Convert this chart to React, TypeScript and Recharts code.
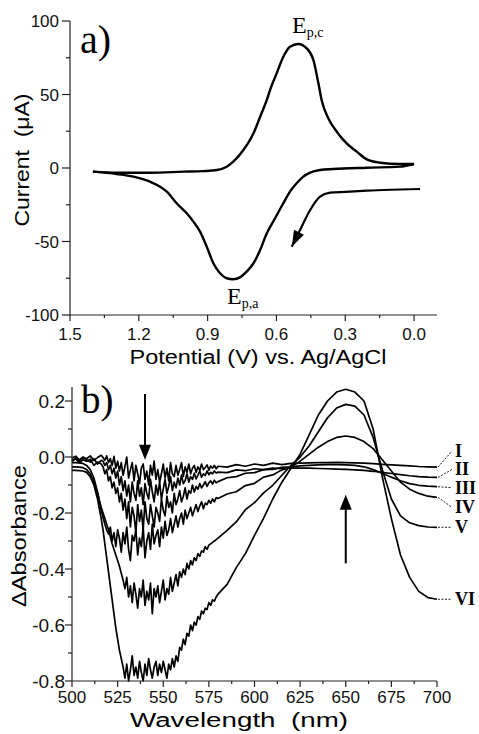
import { LineChart, Line, XAxis, YAxis, ReferenceLine } from 'recharts';

// ---- panel a) cyclic voltammogram: potential (V), current (uA)
const cvUpper = [
  { v: 0.0, i: 2.7 }, { v: 0.061, i: 2.7 }, { v: 0.148, i: 3.6 }, { v: 0.206, i: 5.9 },
  { v: 0.25, i: 11.1 }, { v: 0.294, i: 16.8 }, { v: 0.337, i: 24.7 }, { v: 0.374, i: 33.8 },
  { v: 0.403, i: 46.3 }, { v: 0.417, i: 57.6 }, { v: 0.439, i: 73.5 }, { v: 0.468, i: 81.4 },
  { v: 0.505, i: 84.4 }, { v: 0.541, i: 82.5 }, { v: 0.57, i: 75.7 }, { v: 0.599, i: 64.4 },
  { v: 0.628, i: 53 }, { v: 0.642, i: 46.3 }, { v: 0.671, i: 34.9 }, { v: 0.7, i: 23.6 },
  { v: 0.744, i: 12.2 }, { v: 0.788, i: 4.3 }, { v: 0.817, i: 0.9 }, { v: 0.86, i: -1.4 },
  { v: 0.92, i: -2.1 }, { v: 1.006, i: -2.5 }, { v: 1.151, i: -3.2 }, { v: 1.296, i: -3.2 },
  { v: 1.4, i: -2.5 },
];

const cvLower = [
  { v: 0.0, i: 2.7 }, { v: 0.061, i: 0.9 }, { v: 0.206, i: 0.2 }, { v: 0.352, i: -0.7 },
  { v: 0.41, i: -1.4 }, { v: 0.453, i: -3.2 }, { v: 0.483, i: -5.9 }, { v: 0.512, i: -10.4 },
  { v: 0.541, i: -16.1 }, { v: 0.57, i: -24 }, { v: 0.606, i: -34.2 }, { v: 0.642, i: -44.4 },
  { v: 0.671, i: -55.8 }, { v: 0.7, i: -64.8 }, { v: 0.73, i: -70.5 }, { v: 0.759, i: -74.4 },
  { v: 0.788, i: -75.7 }, { v: 0.817, i: -75.0 }, { v: 0.846, i: -71.6 }, { v: 0.875, i: -64.8 },
  { v: 0.904, i: -53.5 }, { v: 0.933, i: -43.3 }, { v: 0.962, i: -36.5 }, { v: 0.991, i: -30.8 },
  { v: 1.035, i: -24 }, { v: 1.078, i: -16.1 }, { v: 1.107, i: -12.7 }, { v: 1.151, i: -9.3 },
  { v: 1.224, i: -5.9 }, { v: 1.296, i: -4.1 }, { v: 1.4, i: -2.5 },
];

// sweep direction arrow
const cvArrow = [
  { v: -0.026, i: -14.3 }, { v: 0.1, i: -14.8 }, { v: 0.206, i: -15.4 }, { v: 0.3, i: -16.2 },
  { v: 0.366, i: -16.8 }, { v: 0.41, i: -19.5 }, { v: 0.453, i: -28.6 }, { v: 0.497, i: -42.2 },
  { v: 0.533, i: -53.5 },
];

const cvXTicks = [1.5, 1.35, 1.2, 1.05, 0.9, 0.75, 0.6, 0.45, 0.3, 0.15, 0.0];
const cvXMajor = [1.5, 1.2, 0.9, 0.6, 0.3, 0.0];
const cvYTicks = [-100, -75, -50, -25, 0, 25, 50, 75, 100];
const cvYMajor = [-100, -50, 0, 50, 100];

// ---- panel b) difference spectra
const wavelength = [
  500, 502, 504, 506, 508, 510, 512, 514, 516,
  517, 518, 519, 520, 521, 522, 523, 524, 525, 526,
  527, 528, 529, 530, 531, 532, 533, 534, 535, 536,
  537, 538, 539, 540, 541, 542, 543, 544, 545, 546,
  547, 548, 549, 550, 551, 552, 553, 554, 555, 556,
  557, 558, 559, 560, 561, 562, 563, 564, 565, 566,
  567, 568, 569, 570, 571, 572, 573, 574, 575, 576,
  577, 578, 579, 580,
  585, 590, 595, 600, 605, 610, 615, 620, 625, 630, 635, 640,
  645, 650, 655, 660, 665, 670, 675, 680, 685, 690, 695, 700,
];

const specI = [
  -0.004, 0.003, -0.01, 0.0, -0.006, 0.004, -0.012, -0.002, 0.006,
  -0.002, -0.012, 0.004, -0.02, -0.006, -0.03, 0.002, -0.04, -0.015, -0.05,
  -0.02, -0.065, -0.035, 0.0, -0.075, -0.045, -0.02, -0.085, -0.03, -0.06,
  -0.095, -0.04, -0.025, -0.08, -0.05, -0.1, -0.03, -0.065, -0.015, -0.08,
  -0.045, -0.09, -0.06, -0.025, -0.075, -0.04, -0.085, -0.02, -0.06, -0.07,
  -0.03, -0.065, -0.045, -0.02, -0.07, -0.035, -0.055, -0.025, -0.06, -0.04,
  -0.03, -0.055, -0.035, -0.048, -0.025, -0.045, -0.038, -0.028, -0.047, -0.032,
  -0.04, -0.03, -0.042, -0.033,
  -0.036, -0.027, -0.033, -0.025, -0.03, -0.022, -0.027, -0.023, -0.022, -0.021, -0.02, -0.02,
  -0.019, -0.02, -0.021, -0.022, -0.024, -0.026, -0.028, -0.03, -0.032, -0.034, -0.035, -0.036,
];
const specII = [
  -0.012, -0.004, -0.015, -0.002, -0.01, -0.018, -0.006, -0.025, -0.012,
  -0.015, -0.03, -0.02, -0.045, -0.03, -0.06, -0.04, -0.075, -0.05, -0.1,
  -0.07, -0.12, -0.085, -0.14, -0.1, -0.16, -0.09, -0.13, -0.155, -0.085,
  -0.14, -0.11, -0.17, -0.095, -0.13, -0.15, -0.08, -0.125, -0.16, -0.1,
  -0.135, -0.09, -0.15, -0.115, -0.08, -0.13, -0.105, -0.07, -0.12, -0.09,
  -0.11, -0.075, -0.1, -0.065, -0.095, -0.085, -0.06, -0.09, -0.07, -0.08,
  -0.058, -0.078, -0.065, -0.05, -0.072, -0.06, -0.066, -0.05, -0.063, -0.055,
  -0.06, -0.05, -0.057, -0.054,
  -0.056, -0.046, -0.049, -0.042, -0.045, -0.04, -0.042, -0.039, -0.04, -0.04, -0.041, -0.042,
  -0.043, -0.044, -0.046, -0.048, -0.051, -0.055, -0.059, -0.063, -0.067, -0.07, -0.072, -0.073,
];
const specIII = [
  -0.016, -0.006, -0.02, -0.01, -0.015, -0.008, -0.03, -0.018, -0.025,
  -0.035, -0.06, -0.045, -0.085, -0.07, -0.11, -0.09, -0.13, -0.11, -0.16,
  -0.13, -0.19, -0.15, -0.22, -0.16, -0.25, -0.18, -0.21, -0.27, -0.17,
  -0.23, -0.19, -0.26, -0.16, -0.22, -0.24, -0.17, -0.21, -0.25, -0.18,
  -0.2, -0.23, -0.15, -0.19, -0.21, -0.14, -0.18, -0.16, -0.2, -0.13,
  -0.17, -0.15, -0.12, -0.16, -0.14, -0.11, -0.15, -0.12, -0.13, -0.1,
  -0.125, -0.105, -0.115, -0.095, -0.11, -0.1, -0.088, -0.105, -0.092, -0.085,
  -0.097, -0.083, -0.092, -0.088,
  -0.074, -0.07, -0.058, -0.056, -0.045, -0.044, -0.037, -0.035, -0.032, -0.03, -0.028, -0.027,
  -0.027, -0.028, -0.03, -0.035, -0.045, -0.058, -0.072, -0.085, -0.095, -0.101, -0.104, -0.106,
];
const specIV = [
  -0.02, -0.02, -0.021, -0.023, -0.03, -0.045, -0.075, -0.125, -0.19,
  -0.215, -0.24, -0.26, -0.275, -0.25, -0.3, -0.27, -0.32, -0.26, -0.29,
  -0.34, -0.27, -0.31, -0.25, -0.33, -0.37, -0.28, -0.3, -0.26, -0.35,
  -0.29, -0.32, -0.25, -0.36, -0.3, -0.27, -0.33, -0.24, -0.31, -0.28,
  -0.26, -0.32, -0.25, -0.29, -0.23, -0.28, -0.26, -0.22, -0.27, -0.24,
  -0.21, -0.25, -0.22, -0.2, -0.24, -0.19, -0.22, -0.2, -0.18, -0.21,
  -0.19, -0.17, -0.195, -0.175, -0.16, -0.185, -0.165, -0.17, -0.155, -0.165,
  -0.15, -0.16, -0.145, -0.148,
  -0.132, -0.124, -0.102, -0.094, -0.072, -0.064, -0.046, -0.036, -0.015, 0.01, 0.035, 0.055,
  0.07, 0.075, 0.07, 0.055, 0.03, -0.01, -0.05, -0.09, -0.115, -0.13, -0.14, -0.144,
];
const specV = [
  -0.035, -0.035, -0.036, -0.038, -0.045, -0.06, -0.09, -0.13, -0.18,
  -0.2, -0.22, -0.24, -0.26, -0.285, -0.31, -0.33, -0.35, -0.37, -0.39,
  -0.415, -0.44, -0.47, -0.43, -0.5, -0.46, -0.52, -0.45, -0.49, -0.54,
  -0.47, -0.5, -0.44, -0.53, -0.48, -0.51, -0.45, -0.56, -0.47, -0.5,
  -0.46, -0.52, -0.48, -0.44, -0.51, -0.47, -0.49, -0.43, -0.48, -0.45,
  -0.42, -0.46, -0.41, -0.43, -0.4, -0.42, -0.38, -0.4, -0.37, -0.385,
  -0.36, -0.37, -0.345, -0.355, -0.335, -0.34, -0.32, -0.33, -0.315, -0.31,
  -0.305, -0.3, -0.295, -0.29,
  -0.262, -0.232, -0.188, -0.163, -0.128, -0.101, -0.065, -0.03, 0.0, 0.04, 0.09, 0.14,
  0.175, 0.188, 0.182, 0.15, 0.07, -0.045, -0.15, -0.21, -0.235, -0.245, -0.25, -0.251,
];
const specVI = [
  -0.048, -0.048, -0.049, -0.05, -0.055, -0.07, -0.1, -0.15, -0.22,
  -0.26, -0.31, -0.36, -0.41, -0.46, -0.51, -0.56, -0.61, -0.65, -0.69,
  -0.72, -0.75, -0.79, -0.74, -0.8, -0.76, -0.71, -0.78, -0.75, -0.79,
  -0.73, -0.77, -0.8, -0.74, -0.78, -0.72, -0.76, -0.79, -0.75, -0.73,
  -0.78, -0.74, -0.77, -0.73, -0.76, -0.79, -0.74, -0.76, -0.72, -0.75,
  -0.71, -0.73, -0.68, -0.69, -0.65, -0.67, -0.63, -0.64, -0.6, -0.62,
  -0.59, -0.6, -0.57, -0.58, -0.55, -0.56, -0.54, -0.545, -0.52, -0.53,
  -0.51, -0.515, -0.5, -0.49,
  -0.455, -0.395, -0.345, -0.28, -0.218, -0.15, -0.09, -0.04, 0.01, 0.08, 0.15, 0.2,
  0.232, 0.242, 0.232, 0.2, 0.1, -0.07, -0.22, -0.35, -0.43, -0.48, -0.502, -0.508,
];

const spectra = [specI, specII, specIII, specIV, specV, specVI];
const romanLabels = ['I', 'II', 'III', 'IV', 'V', 'VI'];

const specXTicks = [500, 512.5, 525, 537.5, 550, 562.5, 575, 587.5, 600, 612.5, 625, 637.5, 650, 662.5, 675, 687.5, 700];
const specXMajor = [500, 525, 550, 575, 600, 625, 650, 675, 700];
const specYTicks = [-0.8, -0.7, -0.6, -0.5, -0.4, -0.3, -0.2, -0.1, 0.0, 0.1, 0.2];
const specYMajor = [-0.8, -0.6, -0.4, -0.2, 0.0, 0.2];

// arrows marking the trend (data coordinates)
const arrowDown = [{ x: 540, y: 0.225 }, { x: 540, y: -0.01 }];
const arrowUp = [{ x: 650, y: -0.38 }, { x: 650, y: -0.135 }];

const specRows = wavelength.map((w, k) => {
  const row: Record<string, number> = { wl: w };
  spectra.forEach((s, j) => {
    row[`s${j}`] = s[k];
  });
  return row;
});

// label placement (vertical offset of roman numeral from line end, px)
const LABEL_DY = [-16, -8, 1, 10, 0, 0];

const SANS = '"Liberation Sans", Arial, sans-serif';
const SERIF = '"Liberation Serif", "Times New Roman", serif';
const AXIS = '#222';

function makeTick(
  side: 'bottom' | 'left',
  majors: number[],
  fmt: (v: number) => string,
  fontSize: number,
  gap: number,
  majorLen: number,
  minorLen: number
) {
  return (props: any) => {
    const { x, y, payload } = props;
    const v = payload.value;
    const major = majors.some((m) => Math.abs(m - v) < 1e-6);
    const len = major ? majorLen : minorLen;
    if (side === 'bottom') {
      return (
        <g>
          <line x1={x} y1={y} x2={x} y2={y + len} stroke={AXIS} strokeWidth={1.2} />
          {major && (
            <text x={x} y={y + gap} textAnchor="middle" fontSize={fontSize} fontFamily={SANS} fill="#111">
              {fmt(v)}
            </text>
          )}
        </g>
      );
    }
    return (
      <g>
        <line x1={x - len} y1={y} x2={x} y2={y} stroke={AXIS} strokeWidth={1.2} />
        {major && (
          <text x={x - gap} y={y + fontSize * 0.36} textAnchor="end" fontSize={fontSize} fontFamily={SANS} fill="#111">
            {fmt(v)}
          </text>
        )}
      </g>
    );
  };
}

function arrowShape(shaft: boolean, len: number, half: number, sw: number) {
  return (p: any) => {
    const { x1, y1, x2, y2 } = p;
    const dx = x2 - x1;
    const dy = y2 - y1;
    const d = Math.hypot(dx, dy) || 1;
    const ux = dx / d;
    const uy = dy / d;
    const bx = x2 - ux * len;
    const by = y2 - uy * len;
    const pts = `${x2},${y2} ${bx - uy * half},${by + ux * half} ${bx + uy * half},${by - ux * half}`;
    return (
      <g>
        {shaft && <line x1={x1} y1={y1} x2={bx + ux} y2={by + uy} stroke="#000" strokeWidth={sw} />}
        <polygon points={pts} fill="#000" />
      </g>
    );
  };
}

function endLabel(k: number, n: number) {
  return (p: any) => {
    if (p.index !== n - 1) return null;
    const ly = p.cy + LABEL_DY[k];
    return (
      <g key={`lab${k}`}>
        <line x1={p.cx + 1} y1={p.cy} x2={p.cx + 15} y2={ly} stroke="#000" strokeWidth={0.9} strokeDasharray="2 1.5" />
        <text x={p.cx + 18} y={ly + 6} fontFamily={SERIF} fontWeight="bold" fontSize={18} fill="#000">
          {romanLabels[k]}
        </text>
      </g>
    );
  };
}

export default function App() {
  return (
    <div style={{ position: 'absolute', left: 0, top: 0, width: 479, height: 734, background: '#fff' }}>
      <div style={{ position: 'absolute', left: 0, top: 0 }}>
        <LineChart width={479} height={370} margin={{ top: 21, right: 42, bottom: 0, left: 0 }}>
          <XAxis
            type="number"
            dataKey="v"
            domain={[-0.1, 1.5]}
            reversed
            ticks={cvXTicks}
            interval={0}
            height={55}
            tickSize={0}
            tickMargin={0}
            tickLine={false}
            axisLine={{ stroke: AXIS, strokeWidth: 1.2 }}
            tick={makeTick('bottom', cvXMajor, (v) => v.toFixed(1), 17, 25, 6, 3)}
          />
          <YAxis
            type="number"
            dataKey="i"
            domain={[-100, 100]}
            ticks={cvYTicks}
            interval={0}
            width={70}
            tickSize={0}
            tickMargin={0}
            tickLine={false}
            axisLine={{ stroke: AXIS, strokeWidth: 1.2 }}
            tick={makeTick('left', cvYMajor, (v) => String(v), 17, 11, 8, 4)}
          />
          <Line data={cvUpper} dataKey="i" type="monotone" stroke="#000" strokeWidth={2.4} dot={false} isAnimationActive={false} />
          <Line data={cvLower} dataKey="i" type="monotone" stroke="#000" strokeWidth={2.4} dot={false} isAnimationActive={false} />
          <Line data={cvArrow} dataKey="i" type="monotone" stroke="#000" strokeWidth={2.2} dot={false} isAnimationActive={false} />
          <ReferenceLine
            segment={[
              { x: cvArrow[cvArrow.length - 2].v, y: cvArrow[cvArrow.length - 2].i },
              { x: cvArrow[cvArrow.length - 1].v, y: cvArrow[cvArrow.length - 1].i },
            ]}
            shape={arrowShape(false, 16, 5.5, 2)}
          />
        </LineChart>
      </div>

      <div style={{ position: 'absolute', left: 0, top: 370 }}>
        <LineChart width={479} height={364} data={specRows} margin={{ top: 17, right: 42, bottom: 0, left: 0 }}>
          <XAxis
            type="number"
            dataKey="wl"
            domain={[500, 700]}
            ticks={specXTicks}
            interval={0}
            height={53}
            tickSize={0}
            tickMargin={0}
            tickLine={false}
            axisLine={{ stroke: AXIS, strokeWidth: 1.2 }}
            tick={makeTick('bottom', specXMajor, (v) => String(v), 17, 22, 6, 3)}
          />
          <YAxis
            type="number"
            domain={[-0.8, 0.25]}
            ticks={specYTicks}
            interval={0}
            width={72}
            tickSize={0}
            tickMargin={0}
            tickLine={false}
            axisLine={{ stroke: AXIS, strokeWidth: 1.2 }}
            tick={makeTick('left', specYMajor, (v) => v.toFixed(1), 19, 7, 7, 4)}
          />
          {spectra.map((s, j) => (
            <Line
              key={j}
              dataKey={`s${j}`}
              type="linear"
              stroke="#000"
              strokeWidth={1.7}
              strokeLinejoin="round"
              dot={endLabel(j, s.length)}
              activeDot={false}
              isAnimationActive={false}
            />
          ))}
          <ReferenceLine segment={arrowDown} shape={arrowShape(true, 15, 6, 2)} />
          <ReferenceLine segment={arrowUp} shape={arrowShape(true, 15, 6, 2)} />
        </LineChart>
      </div>

      <svg width={479} height={734} style={{ position: 'absolute', left: 0, top: 0, pointerEvents: 'none' }}>
        <text x={80} y={53} fontFamily={SERIF} fontSize={40} fill="#000">a)</text>
        <text x={81} y={413} fontFamily={SERIF} fontSize={39} fill="#000">b)</text>
        <text x={292} y={33} fontFamily={SERIF} fontSize={24} fill="#000">
          E<tspan fontSize={14} dy={4}>p,c</tspan>
        </text>
        <text x={227} y={304} fontFamily={SERIF} fontSize={24} fill="#000">
          E<tspan fontSize={14} dy={4}>p,a</tspan>
        </text>
        <text
          x={29}
          y={160}
          transform="rotate(-90 29 160)"
          textAnchor="middle"
          fontFamily={SANS}
          fontSize={21}
          textLength={133}
          lengthAdjust="spacingAndGlyphs"
          style={{ whiteSpace: 'pre' }}
          fill="#000"
        >
          {'Current  (μA)'}
        </text>
        <text
          x={258}
          y={364}
          textAnchor="middle"
          fontFamily={SANS}
          fontSize={20}
          textLength={257}
          lengthAdjust="spacingAndGlyphs"
          fill="#000"
        >
          Potential (V) vs. Ag/AgCl
        </text>
        <text
          x={26}
          y={536}
          transform="rotate(-90 26 536)"
          textAnchor="middle"
          fontFamily={SANS}
          fontSize={20}
          textLength={142}
          lengthAdjust="spacingAndGlyphs"
          fill="#000"
        >
          ΔAbsorbance
        </text>
        <text
          x={239}
          y={727}
          textAnchor="middle"
          fontFamily={SANS}
          fontSize={20}
          textLength={218}
          lengthAdjust="spacingAndGlyphs"
          style={{ whiteSpace: 'pre' }}
          fill="#000"
        >
          {'Wavelength  (nm)'}
        </text>
      </svg>
    </div>
  );
}
